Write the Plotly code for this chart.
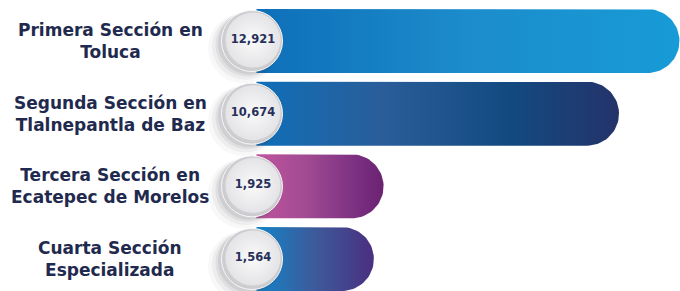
import numpy as np
import plotly.graph_objects as go

# ---- data ----
categories = ["Primera Sección en<br>Toluca",
              "Segunda Sección en<br>Tlalnepantla de Baz",
              "Tercera Sección en<br>Ecatepec de Morelos",
              "Cuarta Sección<br>Especializada"]
values = [12921, 10674, 1925, 1564]
value_labels = ["12,921", "10,674", "1,925", "1,564"]

# ---- styles ----
gradients = [
    [[0, "#0e6fb8"], [0.5, "#1c8ccc"], [1, "#179bd6"]],
    [[0, "#0f6fb8"], [0.35, "#2a5d99"], [0.7, "#124a80"], [1, "#24336a"]],
    [[0, "#c0559f"], [0.4, "#a04a92"], [0.8, "#7a2f80"], [1, "#6a2271"]],
    [[0, "#1284c8"], [0.5, "#3d5a9a"], [1, "#4a2f80"]],
]
W, H = 680, 291
X_MIN, X_MAX = -12330, 12940
Y_TOP, Y_BOTTOM = -0.5642, 3.440
BAR_BASE = -2800
CIRCLE_X = -2965
HALF = 0.44  # half bar height in row units

px_per_x = W / (X_MAX - X_MIN)
px_per_y = H / (Y_BOTTOM - Y_TOP)

fig = go.Figure()

for i, (v, cs) in enumerate(zip(values, gradients)):
    yc = i
    r_px = HALF * px_per_y
    rx = r_px / px_per_x
    t = np.linspace(-np.pi / 2, np.pi / 2, 40)
    arc_x = (v - rx) + rx * np.cos(t)
    arc_y = yc + HALF * np.sin(t)
    xs = np.concatenate([[BAR_BASE], arc_x, [BAR_BASE, BAR_BASE]])
    ys = np.concatenate([[yc - HALF], arc_y, [yc + HALF, yc - HALF]])
    fig.add_trace(go.Scatter(
        x=xs, y=ys, mode="lines", fill="toself",
        line=dict(width=0, color="rgba(0,0,0,0)"),
        fillgradient=dict(type="horizontal", colorscale=cs),
        hoverinfo="skip", showlegend=False))

rows = list(range(len(values)))
# circle shadows (soft, towards lower left)
for off, size, alpha in [(9, 70, 0.04), (7, 66, 0.06), (5, 63, 0.08), (3, 62, 0.10)]:
    fig.add_trace(go.Scatter(
        x=[CIRCLE_X - off / px_per_x] * len(rows),
        y=[r + off * 0.8 / px_per_y for r in rows],
        mode="markers",
        marker=dict(size=size, color=f"rgba(70,70,80,{alpha})", line=dict(width=0)),
        hoverinfo="skip", showlegend=False))
# circle body
fig.add_trace(go.Scatter(
    x=[CIRCLE_X] * len(rows), y=rows, mode="markers",
    marker=dict(size=61, color="#cacace",
                gradient=dict(type="radial", color="#f6f6f7"),
                line=dict(width=1, color="#f7f7f8")),
    hoverinfo="skip", showlegend=False))
fig.add_trace(go.Scatter(
    x=[CIRCLE_X + 1 / px_per_x] * len(rows), y=[r - 1 / px_per_y for r in rows],
    mode="markers+text",
    marker=dict(size=55, color="#e4e4e7",
                gradient=dict(type="radial", color="#fafafa"),
                line=dict(width=0)),
    text=value_labels, textposition="middle center",
    textfont=dict(family="DejaVu Sans", size=11.5, color="#26305a", weight="bold"),
    hoverinfo="skip", showlegend=False))

for i, cat in enumerate(categories):
    fig.add_annotation(
        x=110 / W, xref="paper", y=i, yref="y",
        text=cat, showarrow=False, xanchor="center", yanchor="middle",
        align="center",
        font=dict(family="DejaVu Sans", size=17, color="#1f2a4e", weight="bold"))

fig.update_layout(
    width=W, height=H, margin=dict(l=0, r=0, t=0, b=0),
    paper_bgcolor="white", plot_bgcolor="white",
    xaxis=dict(range=[X_MIN, X_MAX], visible=False, fixedrange=True),
    yaxis=dict(range=[Y_BOTTOM, Y_TOP], visible=False, fixedrange=True),
    showlegend=False,
)
fig.write_html("out.html", config={"displayModeBar": False},
               post_script="document.body.style.margin='0px';")
